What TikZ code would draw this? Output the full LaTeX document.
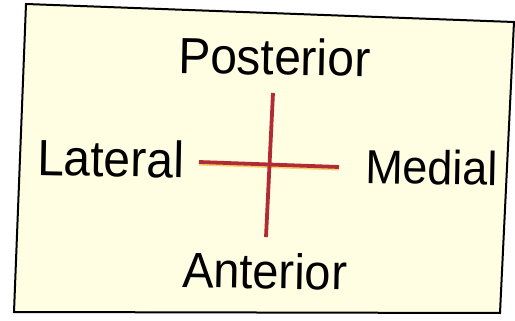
\documentclass[tikz,border=0pt]{standalone}
\usepackage{fontspec}
\setmainfont{Liberation Sans}
\definecolor{cardbg}{RGB}{255,253,226}
\definecolor{crossred}{RGB}{178,42,52}
\definecolor{crossglow}{RGB}{240,190,60}
\tikzset{
  lbl/.style={inner sep=0pt, anchor=base west, font=\fontsize{48}{56}\selectfont, text=black, rotate=-1.1},
  arm/.style={draw=crossred, line width=3.8pt},
  glow/.style={draw=crossglow, line width=2pt, opacity=0.7}
}
\newcommand{\tallbox}[1]{\scalebox{1}[1.06]{#1}}
\begin{document}
\begin{tikzpicture}[x=1pt,y=-1pt]
\useasboundingbox (0,0) rectangle (515,321);
\fill[white] (0,0) rectangle (515,321);
% card
\coordinate (tl) at (26,4);
\coordinate (tr) at (514,22);
\coordinate (br) at (500,313);
\coordinate (bl) at (14,312);
\draw[fill=cardbg, line width=2pt, line join=miter] (tl) -- (tr) -- (br) -- (bl) -- cycle;
% labels
\node[lbl] (post) at (178,73) {\tallbox{Posterior}};
\node[lbl] (lat) at (37,175) {\tallbox{Lateral}};
\node[lbl, font=\fontsize{45}{52}\selectfont] (med) at (365,183) {\tallbox{Medial}};
\node[lbl, font=\fontsize{47}{54}\selectfont] (ant) at (182,287) {\tallbox{Anterior}};
% cross
\coordinate (vt) at (273,93);
\coordinate (vb) at (266,237);
\coordinate (hl) at (199,162);
\coordinate (hr) at (339,167);
\draw[glow] ([yshift=-2.5pt]hl) -- ([yshift=-2.5pt]hr);
\draw[arm] (hl) -- (hr);
\draw[arm] (vt) -- (vb);
\end{tikzpicture}
\end{document}
